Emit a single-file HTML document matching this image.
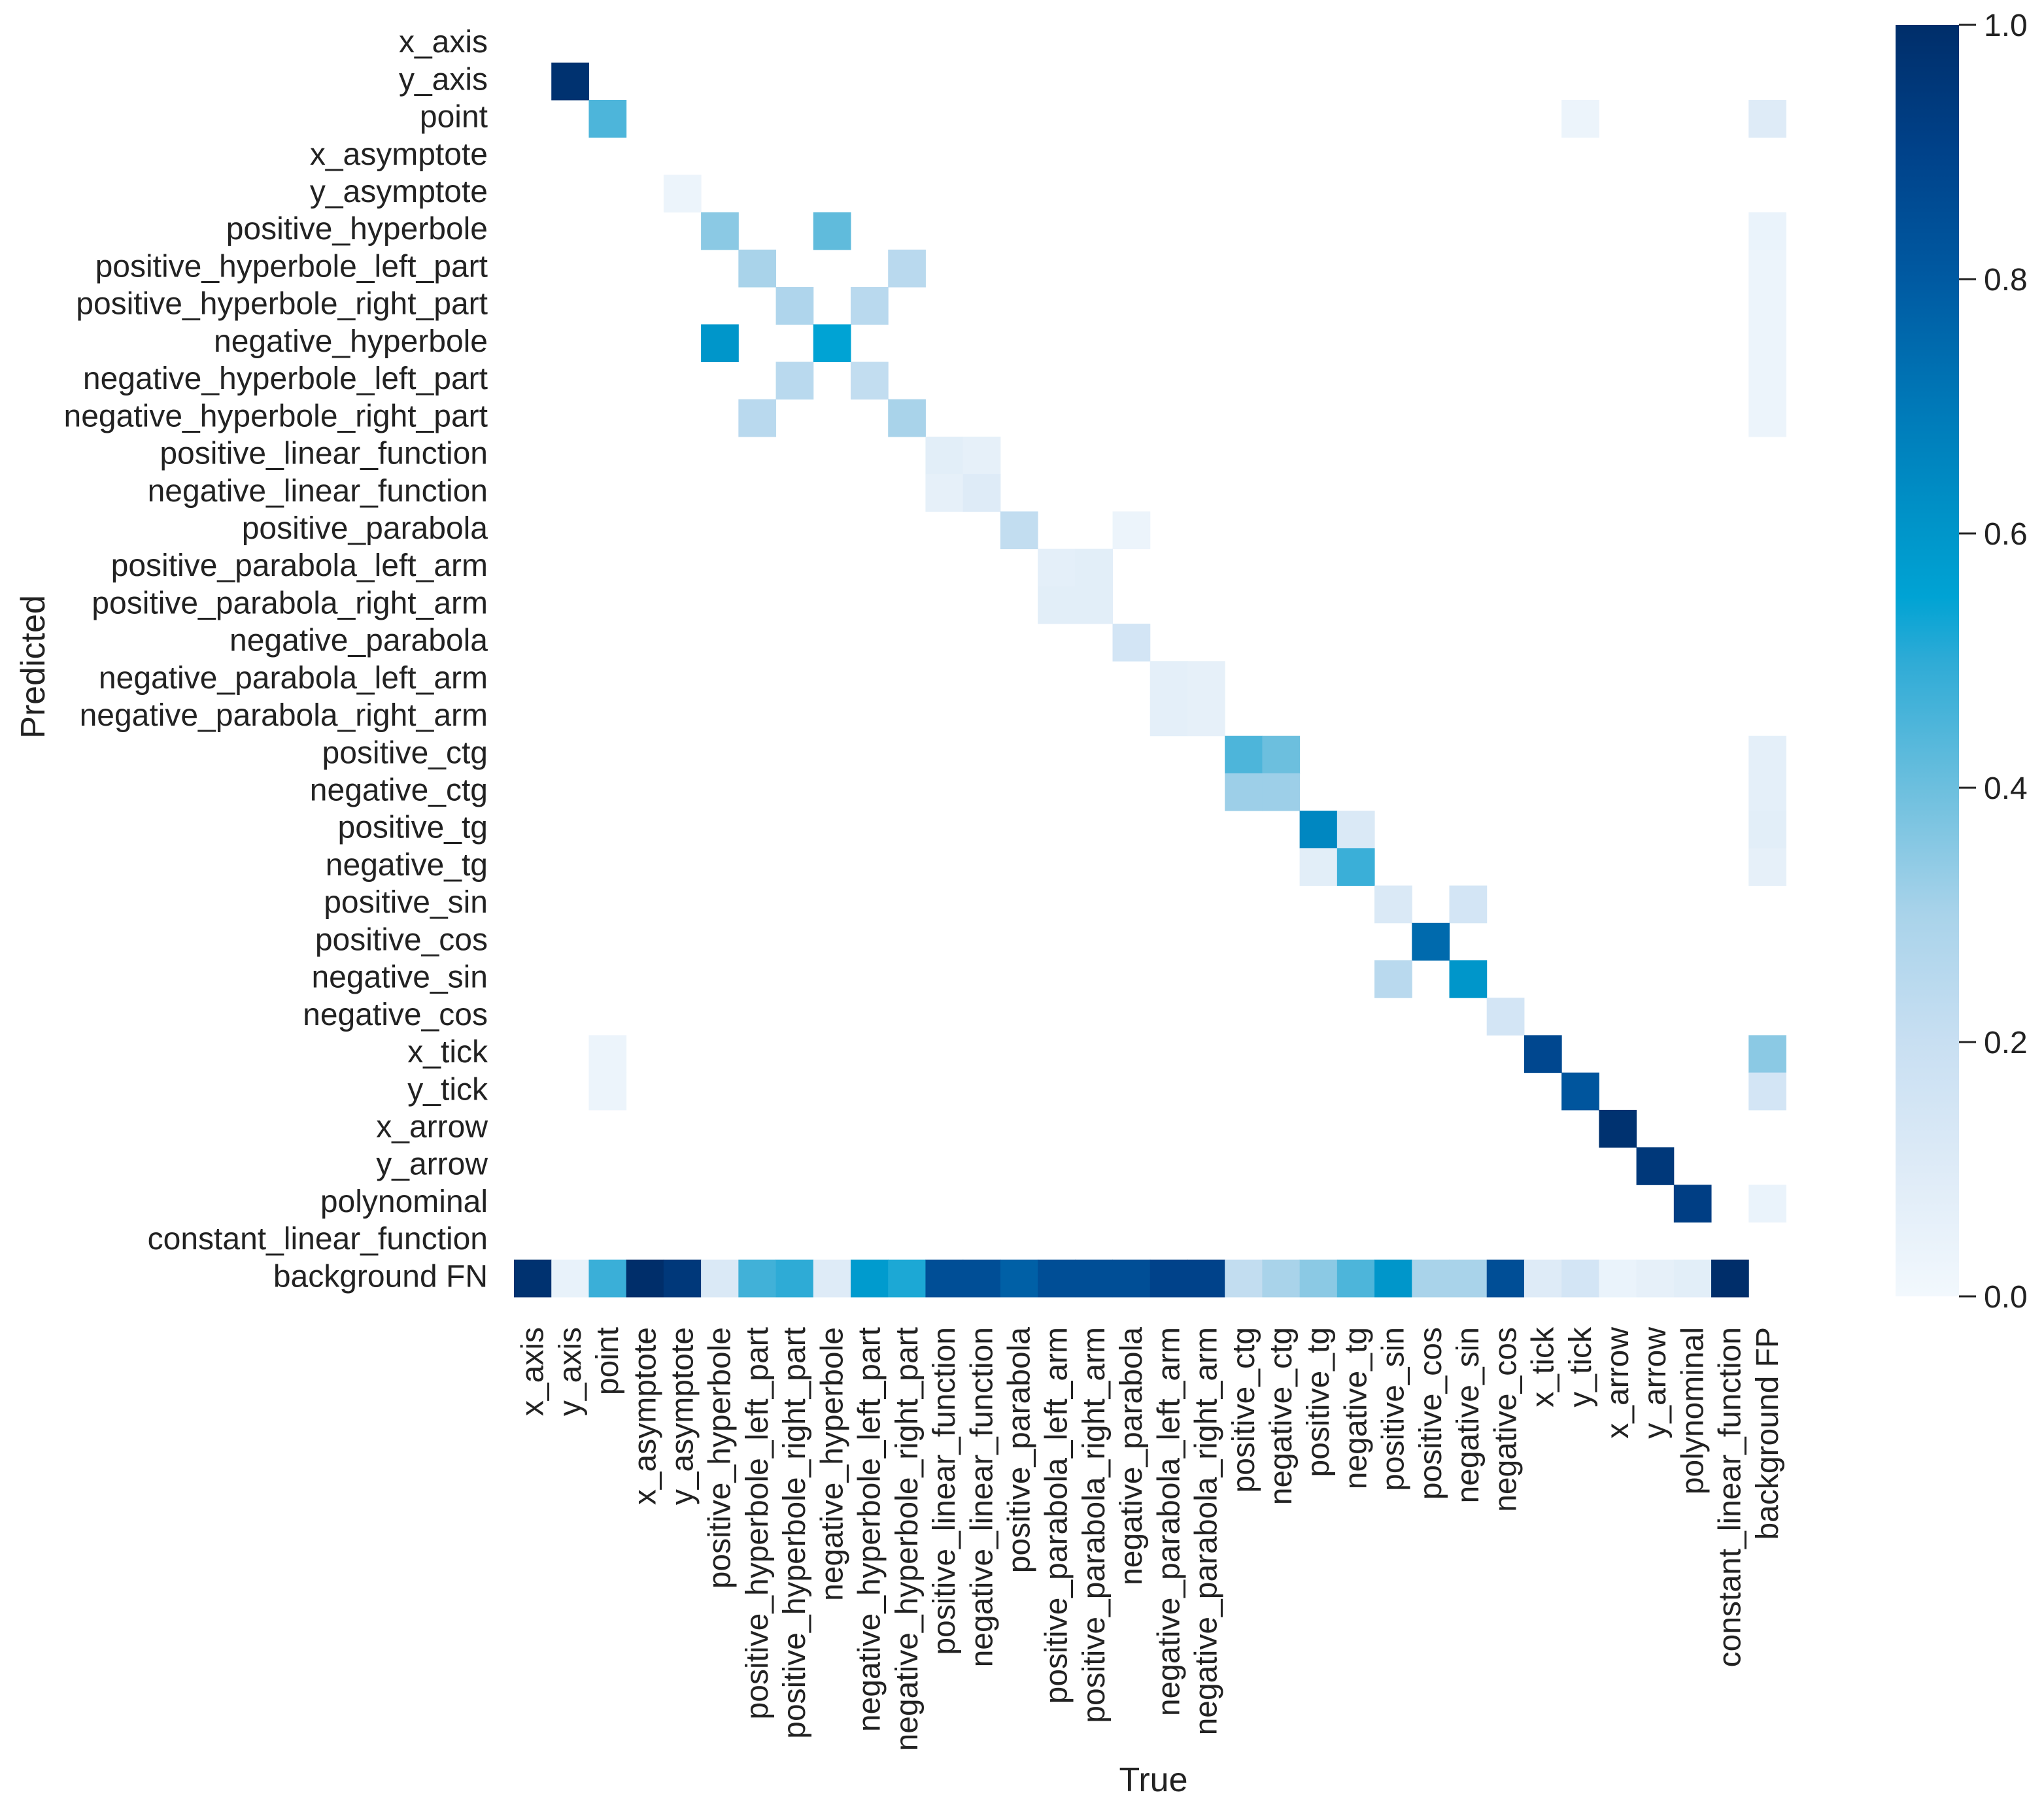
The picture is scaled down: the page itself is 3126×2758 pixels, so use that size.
<!DOCTYPE html>
<html><head><meta charset="utf-8"><style>
html,body{margin:0;padding:0;background:#fff;}
svg{display:block;font-family:"Liberation Sans",Arial,sans-serif;}
</style></head><body>
<svg id="chart" width="3126" height="2758" viewBox="0 0 3126 2758" xmlns="http://www.w3.org/2000/svg">
<defs>
<linearGradient id="cbar" x1="0" y1="1" x2="0" y2="0">
<stop offset="0" stop-color="#f2f8fd"/><stop offset="0.1" stop-color="#deebf7"/><stop offset="0.2" stop-color="#c8dff2"/><stop offset="0.3" stop-color="#a9d3ea"/><stop offset="0.4" stop-color="#6cbfde"/><stop offset="0.5" stop-color="#2eabd6"/><stop offset="0.55" stop-color="#00a3d4"/><stop offset="0.6" stop-color="#0096ca"/><stop offset="0.7" stop-color="#0079b8"/><stop offset="0.8" stop-color="#005aa2"/><stop offset="0.9" stop-color="#00428a"/><stop offset="1" stop-color="#002e6a"/>
</linearGradient>
</defs>
<g id="cells"></g>
<g id="ylabels"></g>
<g id="xlabels"></g>
<text x="1764" y="2740" font-size="52" text-anchor="middle" fill="#222">True</text>
<text transform="translate(68,1020) rotate(-90)" font-size="52" text-anchor="middle" fill="#222">Predicted</text>
<rect x="2899" y="38" width="97" height="1945" fill="url(#cbar)"/>
<g id="cbticks"></g>
</svg>
<script>
const rowLabels = ["x_axis","y_axis","point","x_asymptote","y_asymptote","positive_hyperbole","positive_hyperbole_left_part","positive_hyperbole_right_part","negative_hyperbole","negative_hyperbole_left_part","negative_hyperbole_right_part","positive_linear_function","negative_linear_function","positive_parabola","positive_parabola_left_arm","positive_parabola_right_arm","negative_parabola","negative_parabola_left_arm","negative_parabola_right_arm","positive_ctg","negative_ctg","positive_tg","negative_tg","positive_sin","positive_cos","negative_sin","negative_cos","x_tick","y_tick","x_arrow","y_arrow","polynominal","constant_linear_function","background FN"];
const colLabels = ["x_axis","y_axis","point","x_asymptote","y_asymptote","positive_hyperbole","positive_hyperbole_left_part","positive_hyperbole_right_part","negative_hyperbole","negative_hyperbole_left_part","negative_hyperbole_right_part","positive_linear_function","negative_linear_function","positive_parabola","positive_parabola_left_arm","positive_parabola_right_arm","negative_parabola","negative_parabola_left_arm","negative_parabola_right_arm","positive_ctg","negative_ctg","positive_tg","negative_tg","positive_sin","positive_cos","negative_sin","negative_cos","x_tick","y_tick","x_arrow","y_arrow","polynominal","constant_linear_function","background FP"];
const cellRows = [1,2,2,2,4,5,5,5,6,6,6,7,7,7,8,8,8,9,9,9,10,10,10,11,11,12,12,13,13,14,14,15,15,16,17,17,18,18,19,19,19,20,20,20,21,21,21,22,22,22,23,23,24,25,25,26,27,27,27,28,28,28,29,30,31,31,
33,33,33,33,33,33,33,33,33,33,33,33,33,33,33,33,33,33,33,33,33,33,33,33,33,33,33,33,33,33,33,33,33];
const cellCols = [1,2,28,33,4,5,8,33,6,10,33,7,9,33,5,8,33,7,9,33,6,10,33,11,12,11,12,13,16,14,15,14,15,16,17,18,17,18,19,20,33,19,20,33,21,22,33,21,22,33,23,25,24,23,25,26,2,27,33,2,28,33,29,30,31,33,
0,1,2,3,4,5,6,7,8,9,10,11,12,13,14,15,16,17,18,19,20,21,22,23,24,25,26,27,28,29,30,31,32];
const cellValues = [0.98,0.45,0.03,0.1,0.03,0.35,0.42,0.04,0.3,0.25,0.03,0.28,0.25,0.03,0.6,0.55,0.03,0.25,0.22,0.03,0.25,0.3,0.03,0.08,0.06,0.06,0.1,0.22,0.03,0.07,0.08,0.08,0.08,0.15,0.07,0.06,0.07,0.06,0.45,0.4,0.07,0.32,0.32,0.07,0.65,0.12,0.08,0.08,0.48,0.06,0.12,0.15,0.75,0.25,0.6,0.15,0.03,0.88,0.35,0.03,0.82,0.15,0.98,0.95,0.92,0.04,
0.98,0.05,0.48,1.0,0.95,0.12,0.47,0.5,0.1,0.58,0.52,0.85,0.85,0.78,0.85,0.85,0.85,0.9,0.9,0.22,0.3,0.35,0.45,0.6,0.3,0.3,0.85,0.1,0.15,0.04,0.06,0.08,1.0];
const cbTicks = [0.0,0.2,0.4,0.6,0.8,1.0];

const NS="http://www.w3.org/2000/svg";
const gridLeft=786, gridTop=38.5, cell=57.22;
const xPos=c=>gridLeft+c*cell, yPos=r=>gridTop+r*cell;
const cbTop=38, cbBot=1983, cbScale=v=>cbBot-v*(cbBot-cbTop);
const stops=[[0,[242,248,253]],[0.1,[222,235,247]],[0.2,[200,223,242]],[0.3,[169,211,234]],[0.4,[108,191,222]],[0.5,[46,171,214]],[0.55,[0,163,212]],[0.6,[0,150,202]],[0.7,[0,121,184]],[0.8,[0,90,162]],[0.9,[0,66,138]],[1,[0,46,106]]];
function color(v){v=Math.max(0,Math.min(1,v));for(let i=1;i<stops.length;i++){if(v<=stops[i][0]){const a=stops[i-1],b=stops[i],t=(v-a[0])/(b[0]-a[0]);return 'rgb('+a[1].map((x,k)=>Math.round(x+(b[1][k]-x)*t)).join(',')+')';}}return 'rgb(0,46,106)';}
const gC=document.getElementById('cells');
for(let i=0;i<cellValues.length;i++){
  const r=document.createElementNS(NS,'rect');
  
  
  r.setAttribute('x',xPos(cellCols[i]));r.setAttribute('y',yPos(cellRows[i]));
  r.setAttribute('width',cell+0.5);r.setAttribute('height',cell+0.5);
  r.setAttribute('fill',color(cellValues[i]));gC.appendChild(r);
}
const gY=document.getElementById('ylabels');
rowLabels.forEach((l,i)=>{const t=document.createElementNS(NS,'text');
  
  
  t.setAttribute('x',746);t.setAttribute('y',yPos(i)+cell/2+13);t.setAttribute('font-size','48');t.setAttribute('text-anchor','end');t.setAttribute('fill','#222');t.textContent=l;gY.appendChild(t);});
const gX=document.getElementById('xlabels');
colLabels.forEach((l,i)=>{const t=document.createElementNS(NS,'text');
  
  
  const cx=xPos(i)+cell/2+16;
  t.setAttribute('transform','translate('+cx+',2030) rotate(-90)');t.setAttribute('font-size','48');t.setAttribute('text-anchor','end');t.setAttribute('fill','#222');t.textContent=l;gX.appendChild(t);});
const gT=document.getElementById('cbticks');
cbTicks.forEach(v=>{const y=cbScale(v);
  const ln=document.createElementNS(NS,'line');
  
  
  ln.setAttribute('x1',2996);ln.setAttribute('x2',3022);ln.setAttribute('y1',y);ln.setAttribute('y2',y);ln.setAttribute('stroke','#222');ln.setAttribute('stroke-width','3');gT.appendChild(ln);
  const t=document.createElementNS(NS,'text');
  
  
  t.setAttribute('x',3034);t.setAttribute('y',y+17);t.setAttribute('font-size','48');t.setAttribute('fill','#222');t.textContent=v.toFixed(1);gT.appendChild(t);});
</script>
</body></html>
